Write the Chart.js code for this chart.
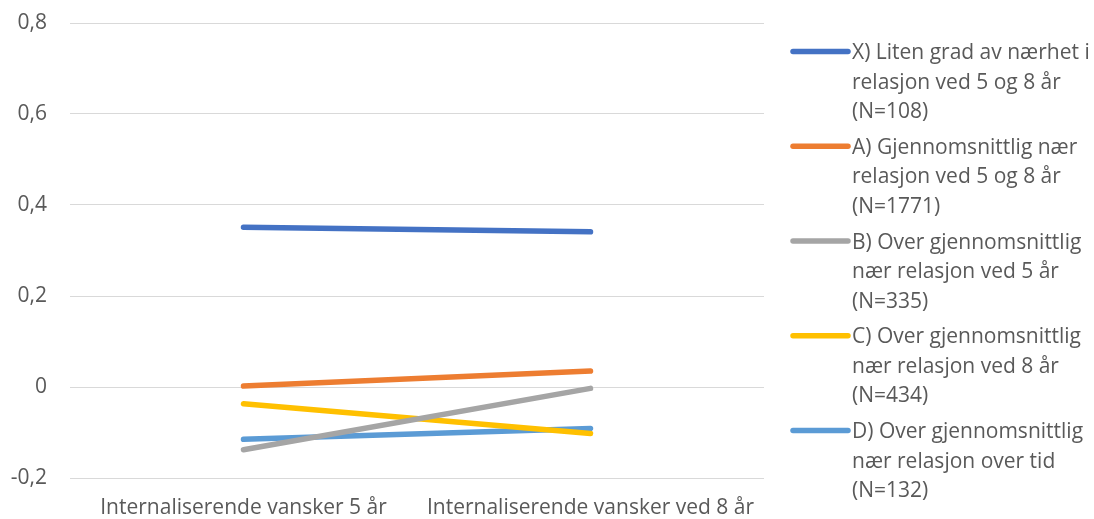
<!DOCTYPE html>
<html>
<head>
<meta charset="utf-8">
<script src="https://cdn.jsdelivr.net/npm/chart.js@4/dist/chart.umd.min.js"></script>
<style>
  html, body { margin: 0; padding: 0; background: #fff; }
  #wrap { width: 1094px; height: 519px; }
</style>
</head>
<body>
<div id="wrap"><canvas id="lineChart"></canvas></div>
<script>
// categories on the x axis
const categories = ['Internaliserende vansker 5 år', 'Internaliserende vansker ved 8 år'];

// one small array per group
const groupX = [0.351, 0.341];
const groupA = [0.002, 0.035];
const groupB = [-0.138, -0.003];
const groupC = [-0.037, -0.102];
const groupD = [-0.115, -0.091];

// legend text, already split into lines like the original
const legendLines = [
    ['X) Liten grad av nærhet i', 'relasjon ved 5 og 8 år', '(N=108)'],
    ['A) Gjennomsnittlig nær', 'relasjon ved 5 og 8 år', '(N=1771)'],
    ['B) Over gjennomsnittlig', 'nær relasjon ved 5 år', '(N=335)'],
    ['C) Over gjennomsnittlig', 'nær relasjon ved 8 år', '(N=434)'],
    ['D) Over gjennomsnittlig', 'nær relasjon over tid', '(N=132)']
];

const seriesColors = ['#4472C4', '#ED7D31', '#A5A5A5', '#FFC000', '#5B9BD5'];
const FONT = '"Open Sans", "Noto Sans", sans-serif';
const FONT_SIZE = 21;
const TEXT_COLOR = '#595959';
const LINE_W = 5.5;

// draws the wrapped legend at the right side of the canvas
const sideLegend = {
    id: 'sideLegend',
    afterDraw (chart) {
        const ctx = chart.ctx;
        const x0 = 793;
        const lineLen = 55;
        const lineH = 29.5;
        const itemGap = 94.75;
        ctx.save();
        ctx.font = FONT_SIZE + 'px ' + FONT;
        ctx.textBaseline = 'alphabetic';
        ctx.fillStyle = TEXT_COLOR;
        chart.data.datasets.forEach(function (ds, i) {
            const y = 51.5 + i * itemGap;
            ctx.strokeStyle = ds.borderColor;
            ctx.lineWidth = LINE_W;
            ctx.lineCap = 'round';
            ctx.beginPath();
            ctx.moveTo(x0, y);
            ctx.lineTo(x0 + lineLen, y);
            ctx.stroke();
            ds.legendText.forEach(function (t, k) {
                ctx.fillText(t, x0 + lineLen + 4, y + 7.5 + k * lineH);
            });
        });
        ctx.restore();
    }
};

const groups = [groupX, groupA, groupB, groupC, groupD];

const data = {
    labels: categories,
    datasets: groups.map(function (values, i) {
        return {
            label: legendLines[i].join(' '),
            legendText: legendLines[i],
            data: values,
            borderColor: seriesColors[i],
            backgroundColor: seriesColors[i],
            borderWidth: LINE_W,
            borderCapStyle: 'round',
            pointRadius: 0,
            pointHoverRadius: 0,
            tension: 0
        };
    })
};

const config = {
    type: 'line',
    data: data,
    options: {
        responsive: true,
        maintainAspectRatio: false,
        animation: false,
        layout: {
            padding: { top: 0, right: 330, bottom: 0, left: 0 }
        },
        plugins: {
            legend: { display: false },
            tooltip: { enabled: false }
        },
        scales: {
            x: {
                offset: true,
                grid: { display: false, drawTicks: false },
                border: { display: false },
                ticks: {
                    color: TEXT_COLOR,
                    font: { family: FONT, size: FONT_SIZE, lineHeight: 1 },
                    padding: 20,
                    maxRotation: 0,
                    autoSkip: false
                },
                // fixed axis height so the plot ends where the original does
                afterFit: function (scale) { scale.height = 41; }
            },
            y: {
                min: -0.2,
                max: 0.8,
                grid: {
                    color: '#D9D9D9',
                    lineWidth: 1,
                    drawTicks: true,
                    tickLength: 10.5,
                    tickColor: 'rgba(0,0,0,0)'
                },
                border: { display: false },
                ticks: {
                    stepSize: 0.2,
                    color: TEXT_COLOR,
                    font: { family: FONT, size: FONT_SIZE, lineHeight: 1 },
                    padding: 12.5,
                    callback: function (v) {
                        const r = Math.round(v * 10) / 10;
                        return r === 0 ? '0' : String(r).replace('.', ',');
                    }
                },
                afterFit: function (scale) { scale.width = 70; }
            }
        }
    },
    plugins: [sideLegend]
};

const myChart = new Chart(document.getElementById('lineChart'), config);
</script>
</body>
</html>
